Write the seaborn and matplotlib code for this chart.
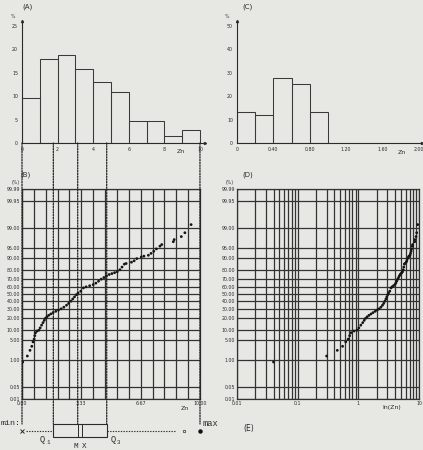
import numpy as np
import matplotlib
matplotlib.use("Agg")
import matplotlib.pyplot as plt
import seaborn as sns
from matplotlib.patches import ConnectionPatch, Rectangle
from matplotlib.ticker import FixedLocator, NullFormatter, LogLocator
from statistics import NormalDist

# ---------------- data ----------------
hist_a_edges = [0, 1, 2, 3, 4, 5, 6, 7, 8, 9, 10]
hist_a_pct = [9.6, 17.9, 18.7, 15.9, 13.1, 11.0, 4.8, 4.8, 1.4, 2.7]

hist_c_edges = [0.0, 0.2, 0.4, 0.6, 0.8, 1.0]
hist_c_pct = [13.3, 12.0, 27.9, 25.1, 13.1]

zn_values = [0.04, 0.30, 0.45, 0.55, 0.62, 0.68, 0.72, 0.76, 0.85, 0.95,
             1.02, 1.10, 1.18, 1.25, 1.32, 1.40, 1.50, 1.62, 1.75, 1.90,
             2.05, 2.20, 2.35, 2.50, 2.62, 2.75, 2.85, 2.95, 3.05, 3.15,
             3.30, 3.45, 3.60, 3.80, 4.00, 4.15, 4.30, 4.45, 4.60, 4.75,
             4.90, 5.05, 5.20, 5.35, 5.50, 5.62, 5.75, 5.85, 6.15, 6.30,
             6.45, 6.70, 6.85, 7.10, 7.25, 7.40, 7.55, 7.75, 7.85, 8.50,
             8.55, 8.95, 9.15, 9.50]
cum_pct = [0.8, 1.4, 2.3, 3.2, 4.5, 5.5, 7.0, 8.5, 9.5, 10.0,
           11.5, 13.5, 15.5, 17.5, 19.5, 21.0, 22.5, 24.0, 25.5, 27.0,
           28.5, 30.0, 32.0, 34.5, 37.0, 40.0, 43.0, 46.0, 49.0, 51.5,
           54.0, 58.5, 60.0, 61.5, 63.0, 65.0, 67.5, 70.0, 72.0, 74.0,
           75.5, 76.5, 77.5, 78.5, 80.5, 83.0, 85.5, 86.0, 87.0, 88.0,
           89.5, 90.5, 91.0, 91.5, 92.5, 93.5, 94.5, 95.5, 96.0, 96.8,
           97.3, 97.9, 98.5, 99.3]

prob_ticks = [0.01, 0.05, 1, 5, 10, 20, 30, 40, 50, 60, 70, 80, 90, 95, 99, 99.95, 99.99]
a_xticks = [0, 2, 4, 6, 8, 10]
a_yticks = [0, 5, 10, 15, 20, 25]
c_xticks = [0, 0.4, 0.8, 1.2, 1.6, 2.0]
c_xlabels = ["0", "0.40", "0.80", "1.20", "1.60", "2.00"]
c_yticks = [0, 10, 20, 30, 40, 50]
b_xticks = [0, 10 / 3, 20 / 3, 10]
b_xlabels = ["0.00", "3.33", "6.67", "10.00"]
d_xticks = [0.01, 0.1, 1, 10]
d_xlabels = ["0.01", "0.1", "1", "10"]

# box-plot statistics
zn_min, zn_q1, zn_median, zn_mean, zn_q3, zn_max = 0.0, 1.76, 3.13, 3.35, 4.76, 10.0
whisker_end = 8.6
outlier_vals = [9.1]

# ---------------- style ----------------
BG = "#e7e7e4"
INK = "#2b2b2b"
sns.set_style("white")
plt.rcParams.update({
    "font.family": ["DejaVu Sans"],
    "figure.facecolor": BG,
    "axes.facecolor": BG,
    "savefig.facecolor": BG,
    "text.color": INK,
    "axes.edgecolor": INK,
    "xtick.color": INK,
    "ytick.color": INK,
})

W, H = 423, 450
fig = plt.figure(figsize=(W / 100, H / 100), dpi=100)


def px_axes(l, t, r, b):
    return fig.add_axes([l / W, 1 - b / H, (r - l) / W, (b - t) / H])


TICK_FS = 3.4

# ---------------- panel A ----------------
axA = px_axes(22, 21.3, 205.3, 143)
centers_a = [(hist_a_edges[i] + hist_a_edges[i + 1]) / 2 for i in range(len(hist_a_pct))]
sns.histplot(x=centers_a, weights=hist_a_pct, bins=hist_a_edges, ax=axA,
             fill=False, color="#3a3a3a", linewidth=0.75)
axA.set_xlim(0, 10.3)
axA.set_ylim(0, 26)
axA.set_xlabel("")
axA.set_ylabel("")
for s in ["top", "right"]:
    axA.spines[s].set_visible(False)
for s in ["left", "bottom"]:
    axA.spines[s].set_linewidth(0.8)
axA.set_xticks(a_xticks)
axA.set_xticklabels([str(v) for v in a_xticks])
axA.set_yticks(a_yticks)
axA.set_yticklabels([str(v) for v in a_yticks])
axA.tick_params(axis="both", labelsize=TICK_FS, length=2, width=0.6, pad=0.8)
axA.plot(1, 0, ">", color=INK, ms=1.5, transform=axA.get_yaxis_transform(), clip_on=False)
axA.plot(0, 1, "^", color=INK, ms=1.5, transform=axA.get_xaxis_transform(), clip_on=False)

# ---------------- panel C ----------------
axC = px_axes(237, 21.3, 421.7, 143)
centers_c = [(hist_c_edges[i] + hist_c_edges[i + 1]) / 2 for i in range(len(hist_c_pct))]
sns.histplot(x=centers_c, weights=hist_c_pct, bins=hist_c_edges, ax=axC,
             fill=False, color="#3a3a3a", linewidth=0.75)
axC.set_xlim(0, 2.03)
axC.set_ylim(0, 52)
axC.set_xlabel("")
axC.set_ylabel("")
for s in ["top", "right"]:
    axC.spines[s].set_visible(False)
for s in ["left", "bottom"]:
    axC.spines[s].set_linewidth(0.8)
axC.set_xticks(c_xticks)
axC.set_xticklabels(c_xlabels)
axC.set_yticks(c_yticks)
axC.set_yticklabels([str(v) for v in c_yticks])
axC.tick_params(axis="both", labelsize=TICK_FS, length=2, width=0.6, pad=0.8)
axC.plot(1, 0, ">", color=INK, ms=1.5, transform=axC.get_yaxis_transform(), clip_on=False)
axC.plot(0, 1, "^", color=INK, ms=1.5, transform=axC.get_xaxis_transform(), clip_on=False)

# ---------------- probability scale ----------------
_nd = NormalDist()
_ppf = np.vectorize(lambda v: _nd.inv_cdf(v), otypes=[float])
_cdf = np.vectorize(lambda v: _nd.cdf(v), otypes=[float])


def prob_fwd(p):
    p = np.nan_to_num(np.asarray(p, dtype=float), nan=50.0)
    p = np.clip(p, 1e-7, 100 - 1e-7) / 100.0
    return _ppf(p)


def prob_inv(z):
    z = np.nan_to_num(np.asarray(z, dtype=float), nan=0.0, posinf=9, neginf=-9)
    return _cdf(z) * 100.0


GRID_KW = dict(color="#333333", linewidth=0.9)


def style_prob_axis(ax):
    ax.set_yscale("function", functions=(prob_fwd, prob_inv))
    ax.set_ylim(0.01, 99.99)
    ax.yaxis.set_major_locator(FixedLocator(prob_ticks))
    ax.set_yticklabels(["%.2f" % v for v in prob_ticks])
    ax.yaxis.set_minor_locator(FixedLocator([]))
    ax.set_xlabel("")
    ax.set_ylabel("")
    ax.tick_params(axis="both", which="both", length=0, labelsize=TICK_FS, pad=1.2)
    for s in ax.spines.values():
        s.set_linewidth(0.9)
        s.set_color("#333333")
    ax.grid(True, which="both", **GRID_KW)
    ax.set_axisbelow(True)


# ---------------- panel B ----------------
axB = px_axes(22, 189, 200, 399)
sns.scatterplot(x=zn_values, y=cum_pct, ax=axB, s=4, color="#151515",
                edgecolor="none", linewidth=0, legend=False, zorder=3)
style_prob_axis(axB)
axB.set_xlim(0, 10)
axB.set_xticks(b_xticks)
axB.set_xticklabels(b_xlabels)
axB.set_xticks(np.linspace(0, 10, 16), minor=True)
axB.xaxis.set_minor_formatter(NullFormatter())
axB.grid(True, which="both", **GRID_KW)

# ---------------- panel D ----------------
axD = px_axes(237, 189, 419, 399)
sns.scatterplot(x=zn_values, y=cum_pct, ax=axD, s=4, color="#151515",
                edgecolor="none", linewidth=0, legend=False, zorder=3)
axD.set_xscale("log")
style_prob_axis(axD)
axD.set_xlim(0.01, 10)
axD.xaxis.set_major_locator(FixedLocator(d_xticks))
axD.set_xticklabels(d_xlabels)
axD.xaxis.set_minor_locator(LogLocator(base=10, subs=np.arange(2, 10), numticks=20))
axD.xaxis.set_minor_formatter(NullFormatter())
axD.grid(True, which="both", **GRID_KW)

# ---------------- box plot (E row) ----------------
axE = px_axes(22, 418, 200, 450)
axE.set_xlim(0, 10)
axE.set_ylim(450, 418)
axE.axis("off")
box_top, box_bot, wy = 424, 436.7, 431.2
dot_kw = dict(color=INK, linewidth=0.8, linestyle=(0, (1.2, 1.2)))
axE.plot([zn_min + 0.25, zn_q1], [wy, wy], **dot_kw)
axE.plot([zn_q3, whisker_end], [wy, wy], **dot_kw)
axE.add_patch(Rectangle((zn_q1, box_top), zn_q3 - zn_q1, box_bot - box_top,
                        facecolor="none", edgecolor=INK, linewidth=0.8))
axE.plot([zn_median, zn_median], [box_top, box_bot], color=INK, lw=0.7)
axE.plot([zn_mean, zn_mean], [box_top, box_bot], color=INK, lw=0.7)
axE.plot([zn_min], [wy], marker="x", color=INK, ms=2.5, mew=0.7, clip_on=False)
axE.plot(outlier_vals, [wy] * len(outlier_vals), marker="o", ls="none", mfc="none",
         mec=INK, ms=1.8, mew=0.5)
axE.plot([zn_max], [wy], marker="o", color="#111", ms=2.2, clip_on=False)

MONO = ["Liberation Mono", "DejaVu Sans Mono"]
axE.text(zn_min - 0.05, 423.5, "min:", family=MONO, fontsize=6.0, ha="right", va="center")
axE.text(zn_max + 0.12, 423.5, "max", family=MONO, fontsize=6.3, ha="left", va="center")
axE.text(zn_q1 - 0.75, 440, "Q", family=MONO, fontsize=6.3, ha="left", va="center")
axE.text(zn_q1 - 0.37, 442, "1", family=MONO, fontsize=4.2, ha="left", va="center")
axE.text(zn_q3 + 0.2, 440, "Q", family=MONO, fontsize=6.3, ha="left", va="center")
axE.text(zn_q3 + 0.58, 442, "3", family=MONO, fontsize=4.2, ha="left", va="center")
axE.text(zn_median - 0.12, 446, "M", family=MONO, fontsize=5.5, ha="center", va="center")
axE.text(zn_mean + 0.12, 446, "X", family=MONO, fontsize=5.5, ha="center", va="center")

# dotted guide lines from histogram A down to box row
for q in [zn_min, zn_q1, zn_median, zn_q3, zn_max]:
    con = ConnectionPatch(xyA=(q, 0), coordsA=axA.transData,
                          xyB=(q, box_top), coordsB=axE.transData,
                          color="#1e1e1e", linewidth=0.9, linestyle=(0, (1.1, 1.1)),
                          zorder=6)
    fig.add_artist(con)

# ---------------- texts ----------------
def ftext(x, y, s, **kw):
    fig.text(x / W, 1 - y / H, s, **kw)


ftext(22, 6.5, "(A)", fontsize=5, va="center")
ftext(242, 6.5, "(C)", fontsize=5, va="center")
ftext(20, 175, "(B)", fontsize=5, va="center")
ftext(242, 175, "(D)", fontsize=5, va="center")
ftext(243, 428, "(E)", fontsize=5.5, va="center")
ftext(13, 16.5, "%", fontsize=3.3, va="center", ha="center")
ftext(227, 16.5, "%", fontsize=3.3, va="center", ha="center")
ftext(16, 182.5, "(%)", fontsize=3.3, va="center", ha="center")
ftext(230, 182.5, "(%)", fontsize=3.3, va="center", ha="center")
ftext(181, 151.5, "Zn", fontsize=4.5, va="center", ha="center")
ftext(402, 152.5, "Zn", fontsize=4.5, va="center", ha="center")
ftext(185, 408, "Zn", fontsize=4.5, va="center", ha="center")
ftext(392, 408, "ln(Zn)", fontsize=4.5, va="center", ha="center")

fig.savefig("out.png", dpi=100)
